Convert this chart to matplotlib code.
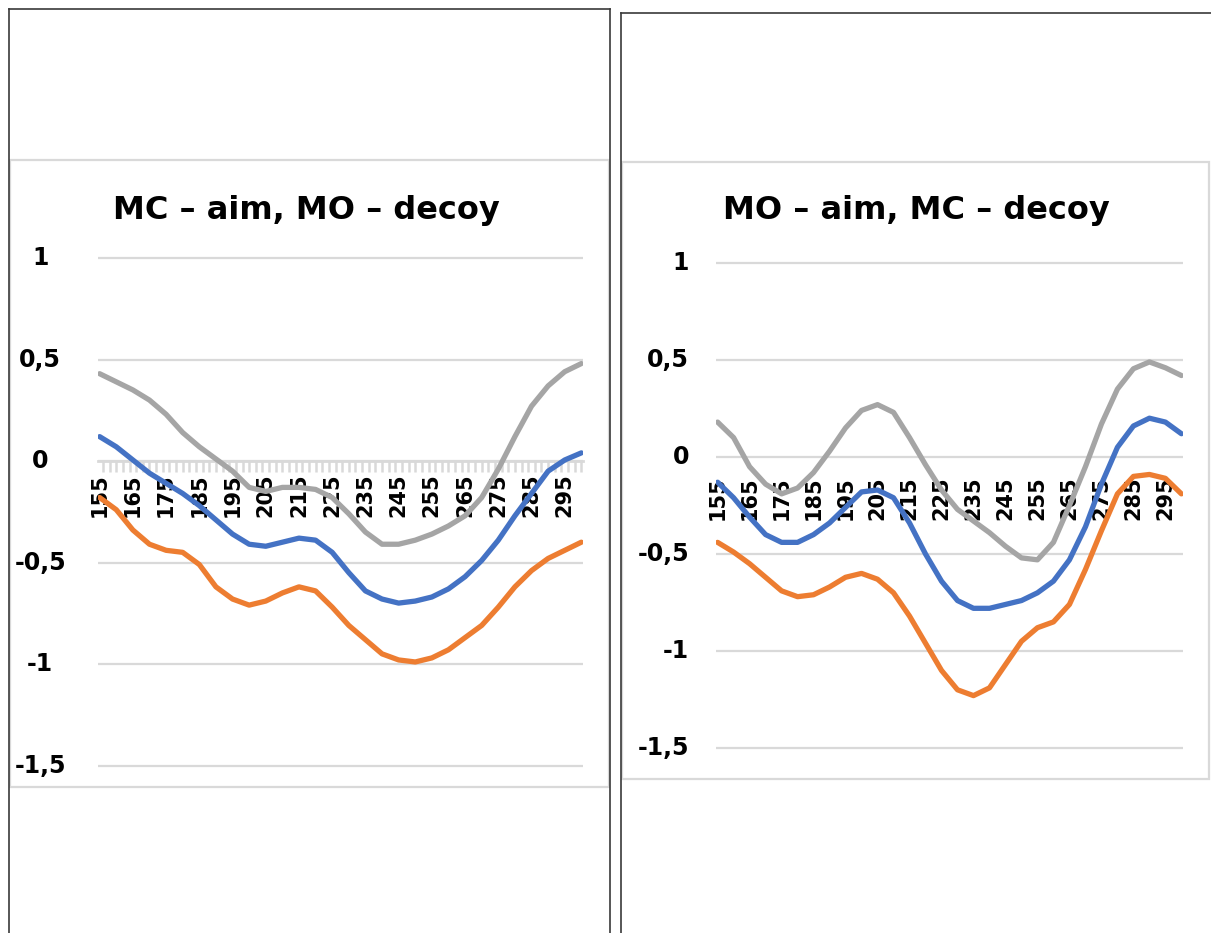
import matplotlib
matplotlib.use("Agg")
import matplotlib.pyplot as plt
from matplotlib.lines import Line2D
from matplotlib.patches import Rectangle
from matplotlib.ticker import FixedLocator, FixedFormatter, MultipleLocator

W, H = 1211, 933

# ---------------- data ----------------
wavelength = [155, 160, 165, 170, 175, 180, 185, 190, 195, 200,
              205, 210, 215, 220, 225, 230, 235, 240, 245, 250,
              255, 260, 265, 270, 275, 280, 285, 290, 295, 300]
x_tick_labels = [155, 165, 175, 185, 195, 205, 215, 225, 235, 245, 255, 265, 275, 285, 295]
y_ticks = [1, 0.5, 0, -0.5, -1, -1.5]
y_tick_labels = ["1", "0,5", "0", "-0,5", "-1", "-1,5"]

title_left = "MC – aim, MO – decoy"
left_blue = [0.12, 0.07, 0.005, -0.06, -0.11, -0.16, -0.22, -0.29, -0.36, -0.41,
             -0.42, -0.40, -0.38, -0.39, -0.45, -0.55, -0.64, -0.68, -0.70, -0.69,
             -0.67, -0.63, -0.57, -0.49, -0.39, -0.27, -0.16, -0.05, 0.005, 0.04]
left_orange = [-0.18, -0.24, -0.34, -0.41, -0.44, -0.45, -0.51, -0.62, -0.68, -0.71,
               -0.69, -0.65, -0.62, -0.64, -0.72, -0.81, -0.88, -0.95, -0.98, -0.99,
               -0.97, -0.93, -0.87, -0.81, -0.72, -0.62, -0.54, -0.48, -0.44, -0.40]
left_gray = [0.43, 0.39, 0.35, 0.30, 0.23, 0.14, 0.07, 0.01, -0.05, -0.13,
             -0.15, -0.13, -0.13, -0.14, -0.18, -0.26, -0.35, -0.41, -0.41, -0.39,
             -0.36, -0.32, -0.27, -0.18, -0.04, 0.12, 0.27, 0.37, 0.44, 0.48]

title_right = "MO – aim, MC – decoy"
right_blue = [-0.13, -0.21, -0.31, -0.40, -0.44, -0.44, -0.40, -0.34, -0.26, -0.18,
              -0.17, -0.21, -0.34, -0.50, -0.64, -0.74, -0.78, -0.78, -0.76, -0.74,
              -0.70, -0.64, -0.53, -0.36, -0.14, 0.05, 0.16, 0.20, 0.18, 0.12]
right_orange = [-0.44, -0.49, -0.55, -0.62, -0.69, -0.72, -0.71, -0.67, -0.62, -0.60,
                -0.63, -0.70, -0.82, -0.96, -1.10, -1.20, -1.23, -1.19, -1.07, -0.95,
                -0.88, -0.85, -0.76, -0.58, -0.38, -0.19, -0.10, -0.09, -0.11, -0.19]
right_gray = [0.18, 0.10, -0.05, -0.14, -0.19, -0.16, -0.08, 0.03, 0.15, 0.24,
              0.27, 0.23, 0.10, -0.04, -0.17, -0.27, -0.33, -0.39, -0.46, -0.52,
              -0.53, -0.44, -0.25, -0.05, 0.17, 0.35, 0.455, 0.49, 0.46, 0.42]

BLUE, ORANGE, GRAY = "#4472C4", "#ED7D31", "#A5A5A5"
GRID = "#D9D9D9"
FONT = "DejaVu Sans"

fig = plt.figure(figsize=(W / 100, H / 100), dpi=100)
fig.patch.set_facecolor("white")


def frac_rect(x0, y0, x1, y1):
    return [x0 / W, 1 - y1 / H, (x1 - x0) / W, (y1 - y0) / H]


def fig_line(x0, y0, x1, y1, color="#3a3a3a", lw=1.2):
    fig.add_artist(Line2D([x0 / W, x1 / W], [1 - y0 / H, 1 - y1 / H],
                          transform=fig.transFigure, color=color, lw=lw))


# table cell borders
fig_line(8.5, 8.5, 609.5, 8.5)
fig_line(8.5, 8.5, 8.5, 933)
fig_line(609.5, 8.5, 609.5, 933)
fig_line(620.5, 12.5, 1211, 12.5)
fig_line(620.5, 12.5, 620.5, 933)

# chart area frames
for (x0, y0, x1, y1) in [(10, 160, 609, 787), (622, 162, 1209, 779)]:
    fig.add_artist(Rectangle((x0 / W, 1 - y1 / H), (x1 - x0) / W, (y1 - y0) / H,
                             transform=fig.transFigure, facecolor="none",
                             edgecolor=GRID, lw=1.6))


def make_chart(rect, title, title_xy, blue, orange, gray, show_axis, label_pad,
               ylab_x, ylab_ha):
    ax = fig.add_axes(frac_rect(*rect))
    ax.set_xlim(154.5, 300.5)
    ax.set_ylim(-1.55, 1.05)
    ax.patch.set_alpha(0)
    for s in ax.spines.values():
        s.set_visible(False)
    ax.spines["bottom"].set_visible(True)
    ax.spines["bottom"].set_position(("data", 0))
    if show_axis:
        ax.spines["bottom"].set_color(GRID)
        ax.spines["bottom"].set_linewidth(2.0)
    else:
        ax.spines["bottom"].set_alpha(0)
    # gridlines
    for v in y_ticks:
        ax.axhline(v, color=GRID, lw=1.6, zorder=1)
    ax.plot(wavelength, gray, color=GRAY, lw=3.8, solid_capstyle="round", zorder=3)
    ax.plot(wavelength, blue, color=BLUE, lw=3.8, solid_capstyle="round", zorder=4)
    ax.plot(wavelength, orange, color=ORANGE, lw=3.8, solid_capstyle="round", zorder=5)

    ax.set_yticks([])
    ax.xaxis.set_major_locator(FixedLocator(x_tick_labels))
    ax.xaxis.set_major_formatter(FixedFormatter([str(v) for v in x_tick_labels]))
    if show_axis:
        ax.xaxis.set_minor_locator(MultipleLocator(2))
        ax.tick_params(axis="x", which="minor", length=8, width=1.8, color=GRID,
                       direction="out")
    else:
        ax.xaxis.set_minor_locator(FixedLocator([]))
    ax.tick_params(axis="x", which="major", length=0, pad=label_pad,
                   labelrotation=90, labelsize=15, labelcolor="black")
    for lab in ax.get_xticklabels():
        lab.set_fontweight("bold")
        lab.set_family(FONT)
    # y tick labels (Excel style)
    for v, lab in zip(y_ticks, y_tick_labels):
        ax.text(ylab_x, v, lab, transform=ax.get_yaxis_transform(),
                ha=ylab_ha, va="center", fontsize=17, fontweight="bold",
                family=FONT, color="black")
    fig.text(title_xy[0] / W, 1 - title_xy[1] / H, title, ha="center", va="center",
             fontsize=23, fontweight="bold", family=FONT, color="black")
    return ax


# left: x 98..583, y1->258, y-1.5->766
make_chart((98, 461 - 1.05 * 203, 583, 461 + 1.55 * 203), title_left, (306, 210),
           left_blue, left_orange, left_gray, True, 9, -0.119, "center")
# right: x 716..1183, y1->263, y-1.5->748
make_chart((716, 457 - 1.05 * 194, 1183, 457 + 1.55 * 194), title_right, (916, 210),
           right_blue, right_orange, right_gray, False, 14, -0.058, "right")

fig.savefig("out.png", dpi=100, facecolor="white")
